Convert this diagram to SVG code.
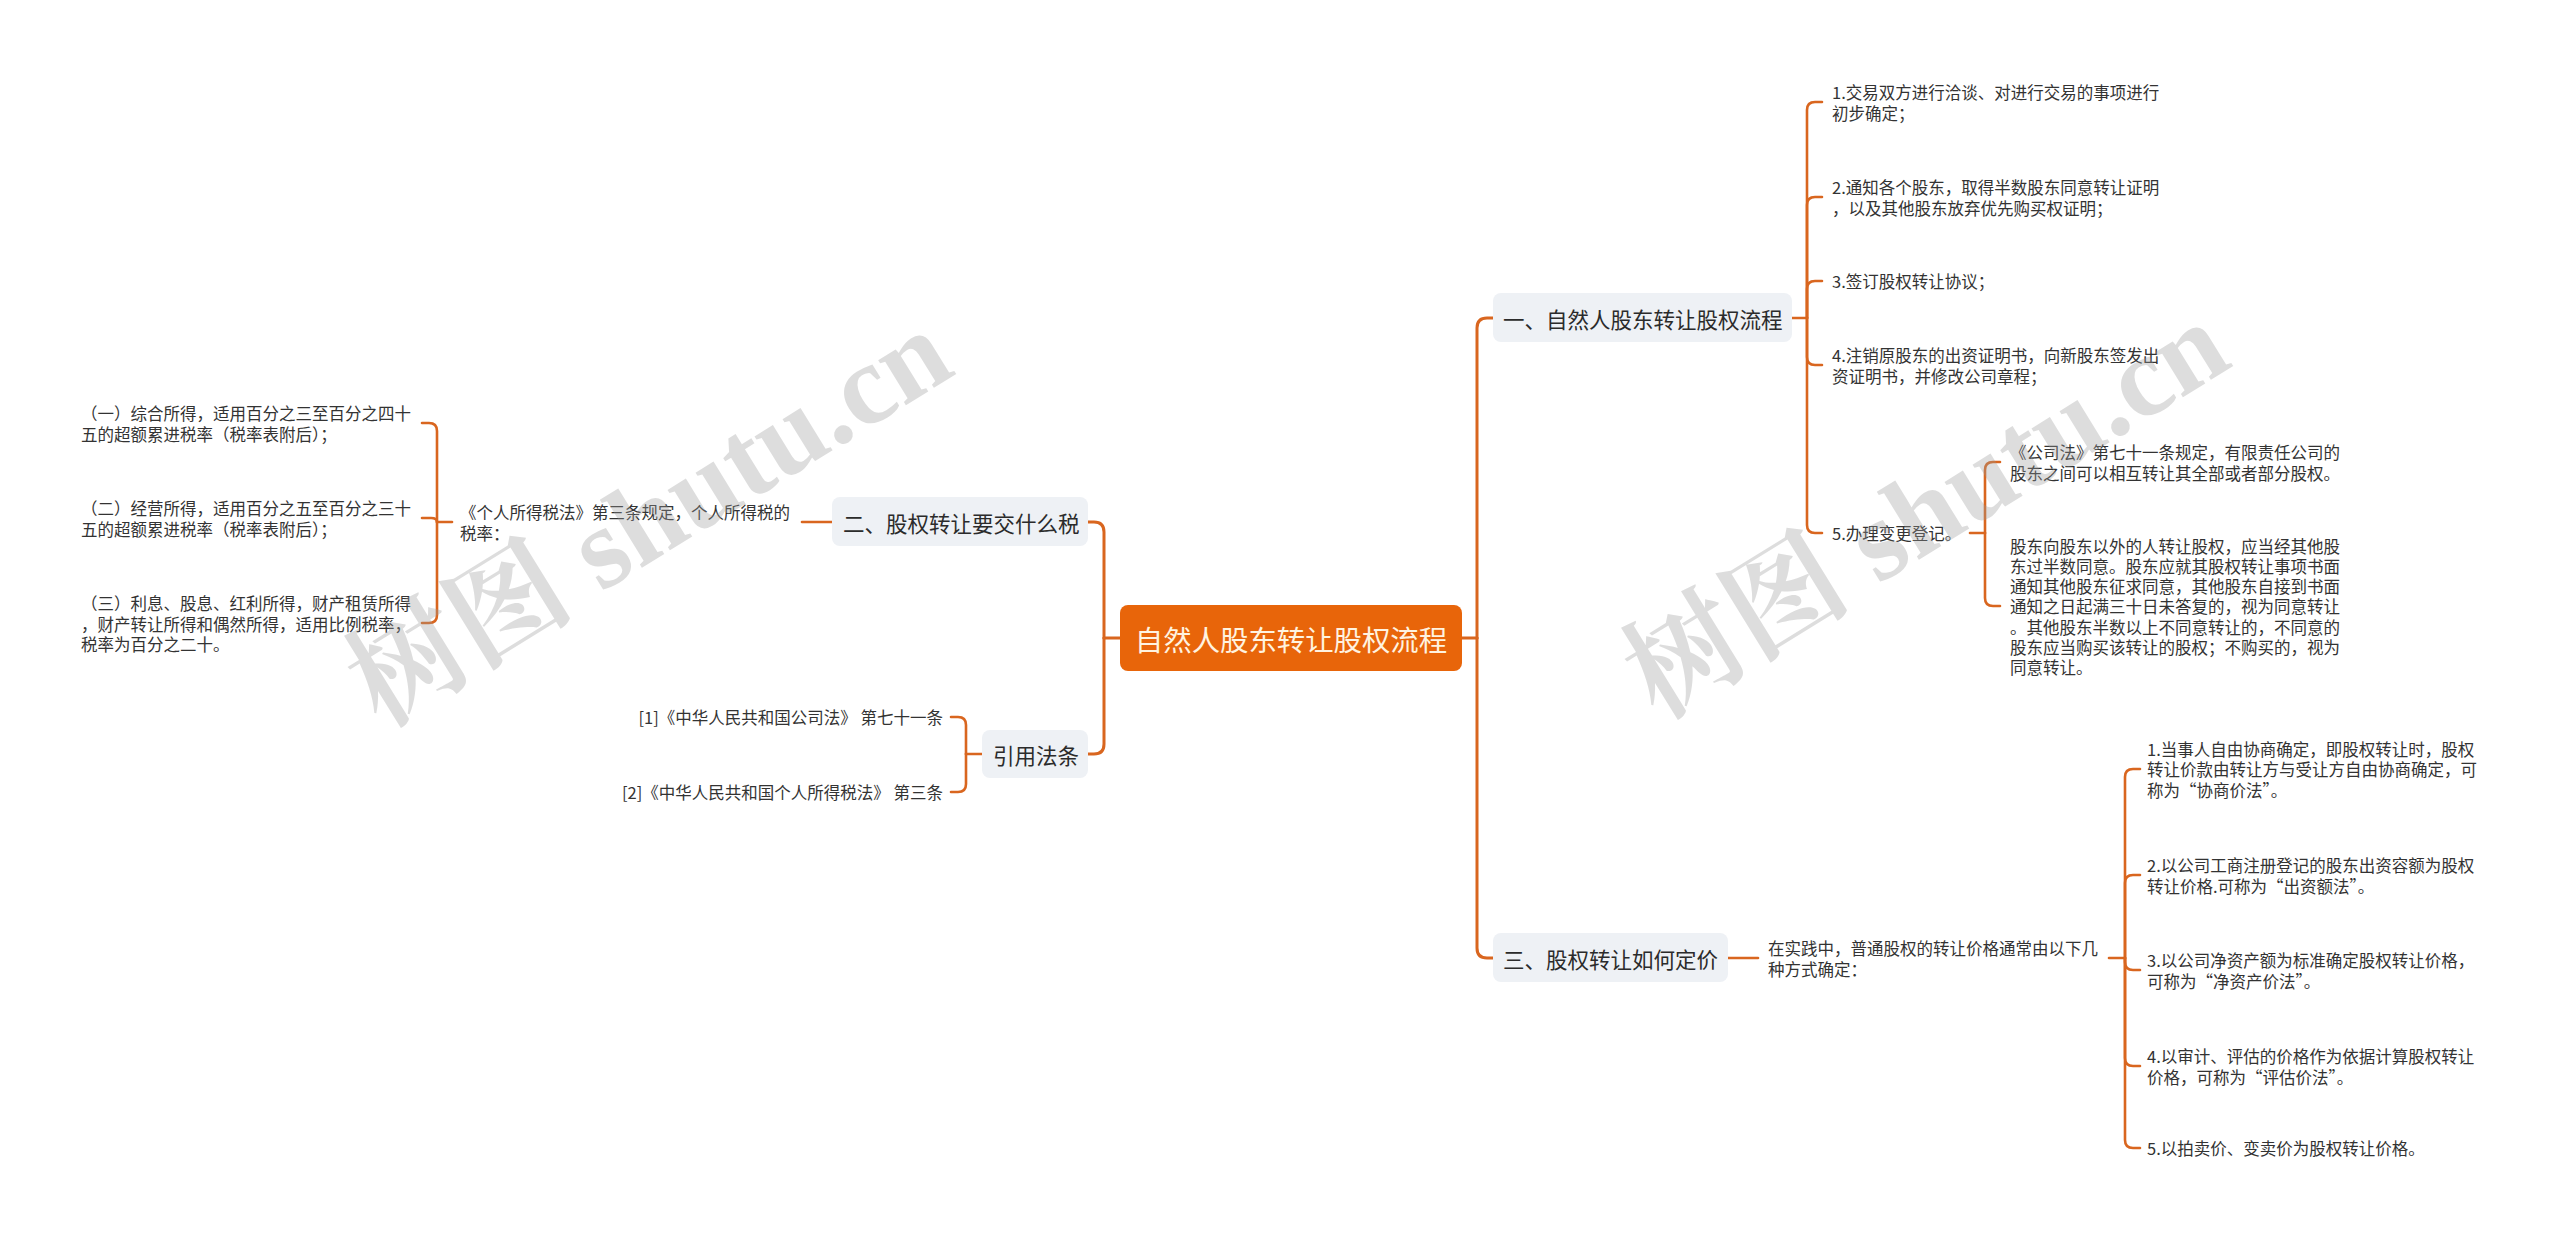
<svg xmlns="http://www.w3.org/2000/svg" width="2560" height="1239" viewBox="0 0 2560 1239">
<style>
.bg{fill:#ffffff}
.c{fill:none;stroke:#D9661F;stroke-width:2.6;stroke-linecap:round;stroke-linejoin:round}
.cm{fill:none;stroke:#D9661F;stroke-width:3;stroke-linecap:round;stroke-linejoin:round}
.root{fill:#E8650A}
.rt{font-family:"Noto Sans CJK SC","Noto Sans",sans-serif;font-size:28.4px;fill:#FFF3E0;text-anchor:middle;dominant-baseline:central}
.br{fill:#EEF1F5}
.bt{font-family:"Noto Sans CJK SC","Noto Sans",sans-serif;font-size:21.5px;fill:#2B2B2B;dominant-baseline:central}
.lt{font-family:"Noto Sans CJK SC","Noto Sans",sans-serif;font-size:16.5px;fill:#333333;dominant-baseline:central}
.end{text-anchor:end}
.wm{font-family:"Liberation Serif","Noto Serif CJK SC","Noto Sans CJK SC",serif;font-size:115px;font-weight:bold;fill:#9a9a9a;opacity:0.33;text-anchor:middle;dominant-baseline:central}
</style>
<rect class="bg" x="0" y="0" width="2560" height="1239"/>

<g id="connectors">
  <path class="cm" d="M1120 638 H1104"/>
  <path class="cm" d="M1104 638 V532 Q1104 522 1094 522 H1088"/>
  <path class="cm" d="M1104 638 V744 Q1104 754 1094 754 H1088"/>
  <path class="cm" d="M1462 638 H1477"/>
  <path class="cm" d="M1477 638 V328 Q1477 318 1487 318 H1493"/>
  <path class="cm" d="M1477 638 V948 Q1477 958 1487 958 H1493"/>
  <path class="c" d="M1792 318 H1807"/>
  <path class="c" d="M1807 318 V110 Q1807 102 1815 102 H1822"/>
  <path class="c" d="M1807 318 V205 Q1807 197 1815 197 H1822"/>
  <path class="c" d="M1807 318 V289 Q1807 281 1815 281 H1822"/>
  <path class="c" d="M1807 318 V357 Q1807 365 1815 365 H1822"/>
  <path class="c" d="M1807 318 V525 Q1807 533 1815 533 H1822"/>
  <path class="c" d="M1970 533 H1985"/>
  <path class="c" d="M1985 533 V470 Q1985 462 1993 462 H2000"/>
  <path class="c" d="M1985 533 V598 Q1985 606 1993 606 H2000"/>
  <path class="c" d="M1728 958 H1758"/>
  <path class="c" d="M2109 958 H2125"/>
  <path class="c" d="M2125 958 V777 Q2125 769 2133 769 H2140"/>
  <path class="c" d="M2125 958 V883 Q2125 875 2133 875 H2140"/>
  <path class="c" d="M2125 958 V962 Q2125 970 2133 970 H2140"/>
  <path class="c" d="M2125 958 V1058 Q2125 1066 2133 1066 H2140"/>
  <path class="c" d="M2125 958 V1140 Q2125 1148 2133 1148 H2140"/>
  <path class="c" d="M832 522 H802"/>
  <path class="c" d="M452 522 H437"/>
  <path class="c" d="M437 522 V431 Q437 423 429 423 H422"/>
  <path class="c" d="M437 522 Q437 518 431 518 H422"/>
  <path class="c" d="M437 522 V615 Q437 623 429 623 H422"/>
  <path class="c" d="M982 754 H966"/>
  <path class="c" d="M966 754 V725 Q966 717 958 717 H951"/>
  <path class="c" d="M966 754 V784 Q966 792 958 792 H951"/>
</g>

<g id="root">
  <rect class="root" x="1120" y="605" width="342" height="66" rx="8"/>
  <text class="rt" x="1291" y="638">自然人股东转让股权流程</text>
</g>

<g id="branch1">
  <rect class="br" x="1493" y="293" width="299" height="49" rx="8"/>
  <text class="bt" x="1503" y="318">一、自然人股东转让股权流程</text>
</g>
<g id="b1c1">
  <text class="lt" x="1832" y="92">1.交易双方进行洽谈、对进行交易的事项进行</text>
  <text class="lt" x="1832" y="112.5">初步确定；</text>
</g>
<g id="b1c2">
  <text class="lt" x="1832" y="187">2.通知各个股东，取得半数股东同意转让证明</text>
  <text class="lt" x="1832" y="207.5">，以及其他股东放弃优先购买权证明；</text>
</g>
<g id="b1c3">
  <text class="lt" x="1832" y="281">3.签订股权转让协议；</text>
</g>
<g id="b1c4">
  <text class="lt" x="1832" y="355">4.注销原股东的出资证明书，向新股东签发出</text>
  <text class="lt" x="1832" y="375.5">资证明书，并修改公司章程；</text>
</g>
<g id="b1c5">
  <text class="lt" x="1832" y="533">5.办理变更登记。</text>
</g>
<g id="b1c5a">
  <text class="lt" x="2010" y="452">《公司法》第七十一条规定，有限责任公司的</text>
  <text class="lt" x="2010" y="472.5">股东之间可以相互转让其全部或者部分股权。</text>
</g>
<g id="b1c5b">
  <text class="lt" x="2010" y="545.5">股东向股东以外的人转让股权，应当经其他股</text>
  <text class="lt" x="2010" y="565.8">东过半数同意。股东应就其股权转让事项书面</text>
  <text class="lt" x="2010" y="586.1">通知其他股东征求同意，其他股东自接到书面</text>
  <text class="lt" x="2010" y="606.4">通知之日起满三十日未答复的，视为同意转让</text>
  <text class="lt" x="2010" y="626.7">。其他股东半数以上不同意转让的，不同意的</text>
  <text class="lt" x="2010" y="647">股东应当购买该转让的股权；不购买的，视为</text>
  <text class="lt" x="2010" y="667.3">同意转让。</text>
</g>

<g id="branch3">
  <rect class="br" x="1493" y="933" width="235" height="49" rx="8"/>
  <text class="bt" x="1503" y="958">三、股权转让如何定价</text>
</g>
<g id="b3c0">
  <text class="lt" x="1768" y="948">在实践中，普通股权的转让价格通常由以下几</text>
  <text class="lt" x="1768" y="968.5">种方式确定：</text>
</g>
<g id="b3c1">
  <text class="lt" x="2147" y="748.5">1.当事人自由协商确定，即股权转让时，股权</text>
  <text class="lt" x="2147" y="769">转让价款由转让方与受让方自由协商确定，可</text>
  <text class="lt" x="2147" y="789.5">称为“协商价法”。</text>
</g>
<g id="b3c2">
  <text class="lt" x="2147" y="865">2.以公司工商注册登记的股东出资容额为股权</text>
  <text class="lt" x="2147" y="885.5">转让价格.可称为“出资额法”。</text>
</g>
<g id="b3c3">
  <text class="lt" x="2147" y="960">3.以公司净资产额为标准确定股权转让价格，</text>
  <text class="lt" x="2147" y="980.5">可称为“净资产价法”。</text>
</g>
<g id="b3c4">
  <text class="lt" x="2147" y="1056">4.以审计、评估的价格作为依据计算股权转让</text>
  <text class="lt" x="2147" y="1076.5">价格，可称为“评估价法”。</text>
</g>
<g id="b3c5">
  <text class="lt" x="2147" y="1148">5.以拍卖价、变卖价为股权转让价格。</text>
</g>

<g id="branch2">
  <rect class="br" x="832" y="497" width="256" height="49" rx="8"/>
  <text class="bt" x="843" y="522">二、股权转让要交什么税</text>
</g>
<g id="b2c0">
  <text class="lt" x="460" y="512">《个人所得税法》第三条规定，个人所得税的</text>
  <text class="lt" x="460" y="532.5">税率：</text>
</g>
<g id="b2c1">
  <text class="lt" x="81" y="413">（一）综合所得，适用百分之三至百分之四十</text>
  <text class="lt" x="81" y="433.5">五的超额累进税率（税率表附后）；</text>
</g>
<g id="b2c2">
  <text class="lt" x="81" y="508">（二）经营所得，适用百分之五至百分之三十</text>
  <text class="lt" x="81" y="528.5">五的超额累进税率（税率表附后）；</text>
</g>
<g id="b2c3">
  <text class="lt" x="81" y="603">（三）利息、股息、红利所得，财产租赁所得</text>
  <text class="lt" x="81" y="623.5">，财产转让所得和偶然所得，适用比例税率，</text>
  <text class="lt" x="81" y="644">税率为百分之二十。</text>
</g>

<g id="branch_ref">
  <rect class="br" x="982" y="730" width="106" height="48" rx="8"/>
  <text class="bt" x="993" y="754">引用法条</text>
</g>
<g id="ref1">
  <text class="lt end" x="943" y="717">[1]《中华人民共和国公司法》 第七十一条</text>
</g>
<g id="ref2">
  <text class="lt end" x="943" y="792">[2]《中华人民共和国个人所得税法》 第三条</text>
</g>

<g id="watermarks">
  <text class="wm" transform="translate(649 518) rotate(-31.6)">树图 shutu.cn</text>
  <text class="wm" transform="translate(1926 510) rotate(-31.6)">树图 shutu.cn</text>
</g>
</svg>
